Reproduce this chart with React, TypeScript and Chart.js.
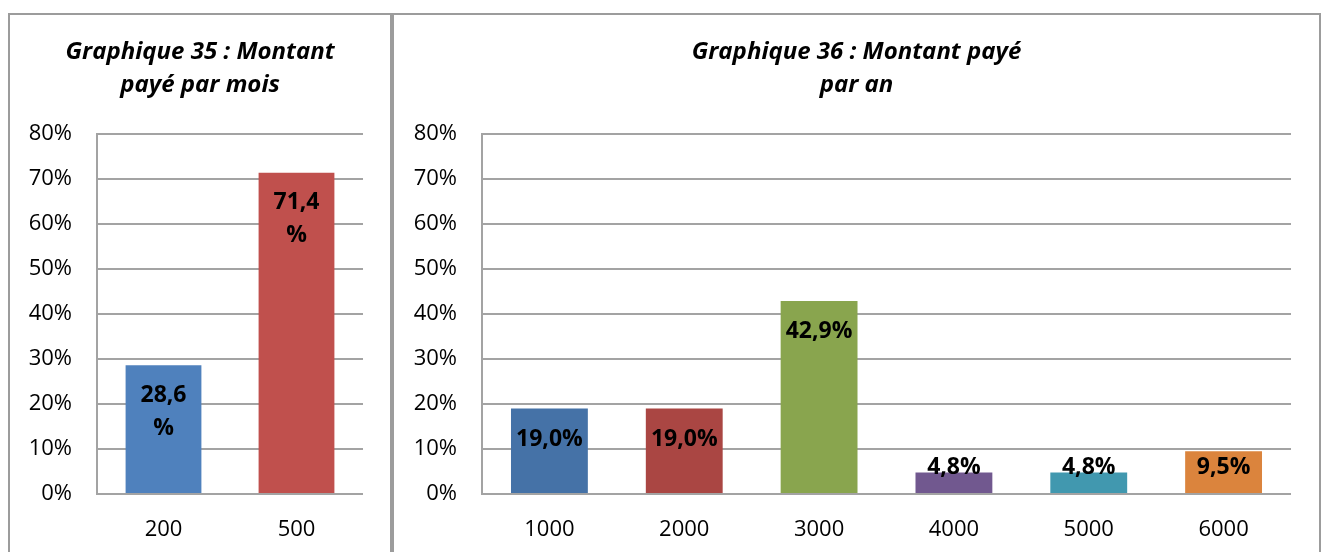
import React, { useEffect, useRef } from "react";
import { Chart, registerables } from "chart.js";

Chart.register(...registerables);

// ---- Data ----
const monthCategories = ["200", "500"];
const monthValues = [28.6, 71.4];
const monthColors = ["#4F81BD", "#C0504D"];
const monthTitle = ["Graphique 35 : Montant", "payé par mois"];

const yearCategories = ["1000", "2000", "3000", "4000", "5000", "6000"];
const yearValues = [19.0, 19.0, 42.9, 4.8, 4.8, 9.5];
const yearColors = ["#4572A7", "#AA4643", "#89A54E", "#71588F", "#4198AF", "#DB843D"];
const yearTitle = ["Graphique 36 : Montant payé", "par an"];

const yMin = 0;
const yMax = 80;
const yStep = 10;

const FONT = "'Open Sans', 'Noto Sans', sans-serif";
const GRID = "#a3a3a3";

const fmt = (v: number) => v.toFixed(1).replace(".", ",");

const labelPlugin = {
  id: "barLabels",
  afterDatasetsDraw(chart: any, _args: any, opts: any) {
    const { ctx } = chart;
    const meta = chart.getDatasetMeta(0);
    const data = chart.data.datasets[0].data as number[];
    ctx.save();
    ctx.font = `bold 23px ${FONT}`;
    ctx.fillStyle = "#000";
    ctx.textAlign = "center";
    ctx.textBaseline = "middle";
    meta.data.forEach((bar: any, i: number) => {
      const { x, y, base } = bar.getProps(["x", "y", "base"], true);
      const v = data[i];
      if (opts && opts.wrap) {
        ctx.fillText(fmt(v), x, y + 30);
        ctx.fillText("%", x, y + 63);
      } else {
        const cy = Math.min(y + 31, base - 26);
        ctx.fillText(fmt(v) + "%", x, cy);
      }
    });
    ctx.restore();
  },
};

function makeConfig(
  categories: string[],
  values: number[],
  colors: string[],
  title: string[],
  yWidth: number,
  rightPad: number,
  wrap: boolean
): any {
  return {
    type: "bar",
    data: {
      labels: categories,
      datasets: [
        {
          data: values,
          backgroundColor: colors,
          borderWidth: 0,
          categoryPercentage: 1,
          barPercentage: 0.57,
        },
      ],
    },
    plugins: [labelPlugin],
    options: {
      responsive: false,
      animation: false,
      devicePixelRatio: 1,
      layout: { padding: 0 },
      plugins: {
        legend: { display: false },
        tooltip: { enabled: false },
        title: {
          display: true,
          text: title,
          color: "#000",
          font: { family: FONT, size: 24, weight: "bold", style: "italic", lineHeight: 33 / 24 },
          padding: { top: 21.5, bottom: 32.5 },
        },
        barLabels: { wrap },
      },
      scales: {
        x: {
          grid: { display: false },
          border: { display: false },
          ticks: { color: "#000", font: { family: FONT, size: 22 }, padding: 15 },
          afterFit: (s: any) => {
            s.height = 58;
          },
        },
        y: {
          min: yMin,
          max: yMax,
          ticks: {
            stepSize: yStep,
            color: "#000",
            font: { family: FONT, size: 22 },
            padding: 25,
            callback: (v: any) => `${v}%`,
          },
          grid: { color: GRID, lineWidth: 2, drawTicks: false },
          border: { display: true, color: GRID, width: 2 },
          afterFit: (s: any) => {
            s.width = yWidth;
          },
        },
        spacer: {
          type: "linear",
          position: "right",
          display: true,
          min: yMin,
          max: yMax,
          grid: { display: false, drawTicks: false },
          border: { display: false },
          ticks: { display: false },
          afterFit: (s: any) => {
            s.width = rightPad;
          },
        },
      },
    },
  };
}

function ChartCanvas(props: {
  left: number;
  top: number;
  width: number;
  height: number;
  config: () => any;
}) {
  const ref = useRef<HTMLCanvasElement | null>(null);
  useEffect(() => {
    if (!ref.current) return;
    const chart = new Chart(ref.current, props.config());
    return () => chart.destroy();
  }, []);
  return (
    <canvas
      ref={ref}
      width={props.width}
      height={props.height}
      style={{
        position: "absolute",
        left: props.left,
        top: props.top,
        width: props.width,
        height: props.height,
      }}
    />
  );
}

export default function App() {
  const border = "2px solid #9c9c9c";
  return (
    <div
      style={{
        position: "fixed",
        left: 0,
        top: 0,
        width: 1322,
        height: 552,
        overflow: "hidden",
        background: "#fff",
      }}
    >
      <div
        style={{
          position: "absolute",
          left: 8,
          top: 13,
          width: 384,
          height: 600,
          boxSizing: "border-box",
          borderTop: border,
          borderLeft: border,
          borderRight: border,
        }}
      />
      <div
        style={{
          position: "absolute",
          left: 392,
          top: 13,
          width: 929,
          height: 600,
          boxSizing: "border-box",
          borderTop: border,
          borderLeft: border,
          borderRight: border,
        }}
      />
      <ChartCanvas
        left={9}
        top={14}
        width={382}
        height={538}
        config={() =>
          makeConfig(monthCategories, monthValues, monthColors, monthTitle, 88, 28, true)
        }
      />
      <ChartCanvas
        left={393}
        top={14}
        width={927}
        height={538}
        config={() =>
          makeConfig(yearCategories, yearValues, yearColors, yearTitle, 89, 29, false)
        }
      />
    </div>
  );
}
